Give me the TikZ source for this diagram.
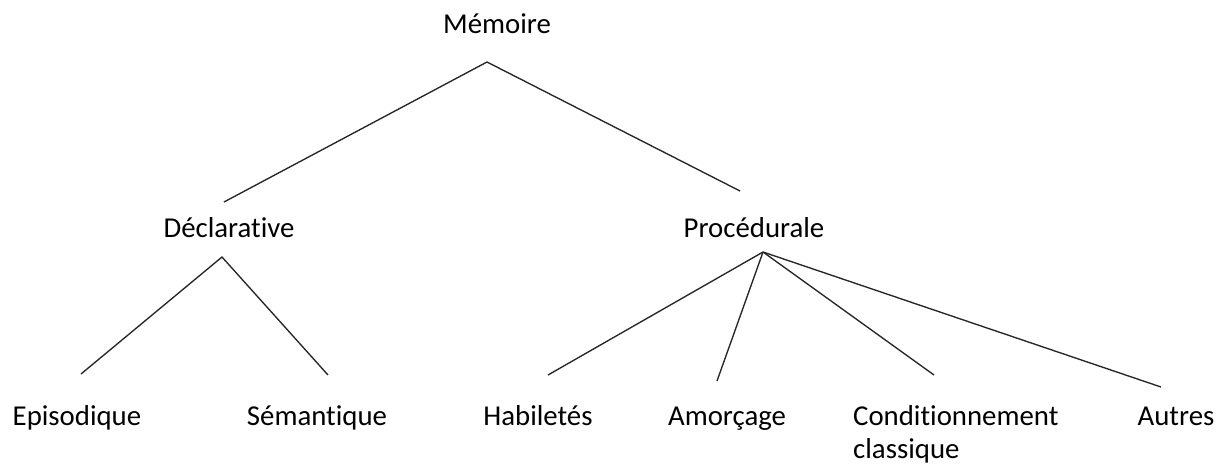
\documentclass[tikz,border=0pt]{standalone}
\usepackage{fontspec}
\setmainfont{Carlito}[Ligatures=NoCommon]
\begin{document}
\begin{tikzpicture}[x=1pt,y=-1pt,
  lbl/.style={anchor=base,inner sep=0pt,font=\fontsize{28.8}{33}\selectfont},
  link/.style={draw=black!85,line width=1.35pt}]
\useasboundingbox (0,0) rectangle (1229,467);
\node[lbl] (mem) at (497,33) {Mémoire};
\node[lbl] (decl) at (229,237) {Déclarative};
\node[lbl] (proc) at (754,237) {Procédurale};
\node[lbl] (epi) at (77,425) {Episodique};
\node[lbl] (sem) at (317,425) {Sémantique};
\node[lbl] (hab) at (538,425) {Habiletés};
\node[lbl] (amo) at (727,425) {Amorçage};
\node[lbl,anchor=base west,align=left] (cond) at (853,458) {Conditionnement\\classique};
\node[lbl] (aut) at (1176,425) {Autres};
\coordinate (memA) at (487,62);
\coordinate (declT) at (224,202);
\coordinate (procT) at (740,191);
\coordinate (declA) at (222,257);
\coordinate (epiT) at (81,374);
\coordinate (semT) at (328,375);
\coordinate (procA) at (763,252);
\coordinate (habT) at (548,375);
\coordinate (amoT) at (717,381);
\coordinate (condT) at (934,375);
\coordinate (autT) at (1161,387);
\draw[link] (declT) -- (memA) -- (procT);
\draw[link] (epiT) -- (declA) -- (semT);
\draw[link] (procA) -- (habT);
\draw[link] (procA) -- (amoT);
\draw[link] (procA) -- (condT);
\draw[link] (procA) -- (autT);
\end{tikzpicture}
\end{document}
